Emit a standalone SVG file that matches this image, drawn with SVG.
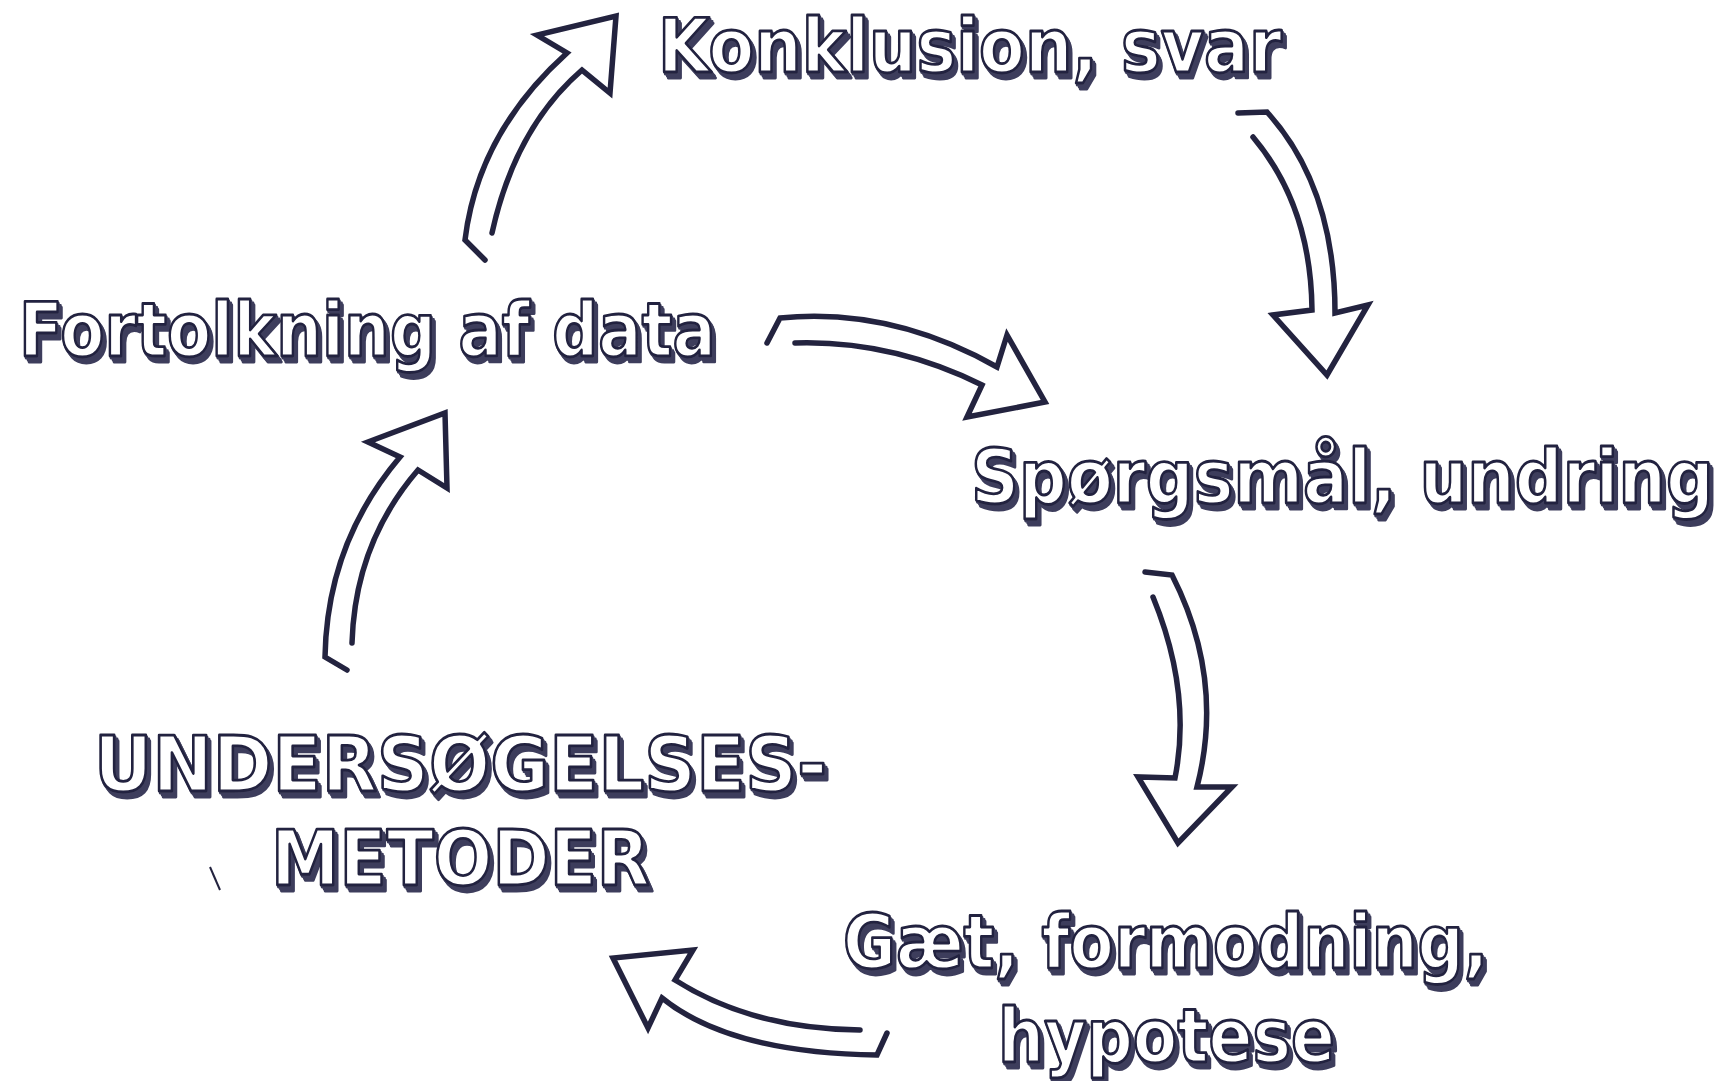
<svg xmlns="http://www.w3.org/2000/svg" width="1734" height="1081" viewBox="0 0 1734 1081">
  <defs>
    <filter id="x3d" x="-5%" y="-20%" width="115%" height="150%">
      <feOffset in="SourceAlpha" dx="1.8" dy="2" result="o1"/>
      <feOffset in="SourceAlpha" dx="3.6" dy="4" result="o2"/>
      <feOffset in="SourceAlpha" dx="5.4" dy="6" result="o3"/>
      <feMerge result="ext">
        <feMergeNode in="o1"/>
        <feMergeNode in="o2"/>
        <feMergeNode in="o3"/>
      </feMerge>
      <feFlood flood-color="#3d3d5c"/>
      <feComposite in2="ext" operator="in" result="sh"/>
      <feMerge>
        <feMergeNode in="sh"/>
        <feMergeNode in="SourceGraphic"/>
      </feMerge>
    </filter>
    <style>
      .lbl { font-family: "DejaVu Sans", "Liberation Sans", sans-serif; font-weight: bold; font-size: 75px; fill: #ffffff; stroke: #23233f; stroke-width: 2.8; stroke-linejoin: round; filter: url(#x3d); }
      .caps { font-size: 77px; }
      .arrow { fill: none; stroke: #23233f; stroke-width: 5.5; stroke-linejoin: miter; stroke-linecap: round; }
    </style>
  </defs>
  <rect width="1734" height="1081" fill="#ffffff"/>

  <g id="connectors">
    <!-- Fortolkning -> Konklusion -->
    <path class="arrow" d="M 492,233 Q 515,128 582,70 L 610,93 L 616,16 L 537,35 L 567,53 Q 478,133 465,240 L 485,260"/>
    <!-- Konklusion -> Spørgsmål -->
    <path class="arrow" d="M 1253,137 Q 1311,206 1312,310 L 1273,315 L 1327,375 L 1368,305 L 1335,313 Q 1335,187 1267,112 L 1238,113"/>
    <!-- Fortolkning -> Spørgsmål -->
    <path class="arrow" d="M 795,343 Q 891,340 982,385 L 967,417 L 1045,402 L 1007,335 L 997,367 Q 891,307 780,318 L 767,343"/>
    <!-- Spørgsmål -> Gæt -->
    <path class="arrow" d="M 1153,597 Q 1192,692 1175,778 L 1138,777 L 1178,843 L 1232,787 L 1197,787 Q 1225,679 1172,575 L 1145,572"/>
    <!-- Gæt -> Undersøgelsesmetoder -->
    <path class="arrow" d="M 860,1030 Q 752,1029 675,980 L 693,950 L 613,958 L 648,1028 L 662,998 Q 730,1053 877,1055 L 887,1033"/>
    <!-- Undersøgelsesmetoder -> Fortolkning -->
    <path class="arrow" d="M 352,643 Q 355,543 418,470 L 447,488 L 445,413 L 368,442 L 400,457 Q 327,543 325,657 L 347,670"/>
    <line x1="210" y1="867" x2="220" y2="890" stroke="#23233f" stroke-width="2"/>
  </g>

  <g id="node-konklusion">
    <text class="lbl" transform="translate(658,72) scale(0.82,1)" x="0" y="0" textLength="761" lengthAdjust="spacingAndGlyphs">Konklusion, svar</text>
  </g>
  <g id="node-fortolkning">
    <text class="lbl" transform="translate(19,356) scale(0.82,1)" x="0" y="0" textLength="850" lengthAdjust="spacingAndGlyphs">Fortolkning af data</text>
  </g>
  <g id="node-spoergsmaal">
    <text class="lbl" transform="translate(971,503) scale(0.82,1)" x="0" y="0" textLength="906" lengthAdjust="spacingAndGlyphs">Spørgsmål, undring</text>
  </g>
  <g id="node-undersoegelsesmetoder">
    <text class="lbl caps" transform="translate(94,791) scale(0.82,1)" x="0" y="0" textLength="894" lengthAdjust="spacingAndGlyphs">UNDERSØGELSES-</text>
    <text class="lbl caps" transform="translate(271,885) scale(0.82,1)" x="0" y="0" textLength="462" lengthAdjust="spacingAndGlyphs">METODER</text>
  </g>
  <g id="node-gaet">
    <text class="lbl" transform="translate(843,968) scale(0.82,1)" x="0" y="0" textLength="787" lengthAdjust="spacingAndGlyphs">Gæt, formodning,</text>
    <text class="lbl" transform="translate(998,1062) scale(0.82,1)" x="0" y="0" textLength="411" lengthAdjust="spacingAndGlyphs">hypotese</text>
  </g>
</svg>
